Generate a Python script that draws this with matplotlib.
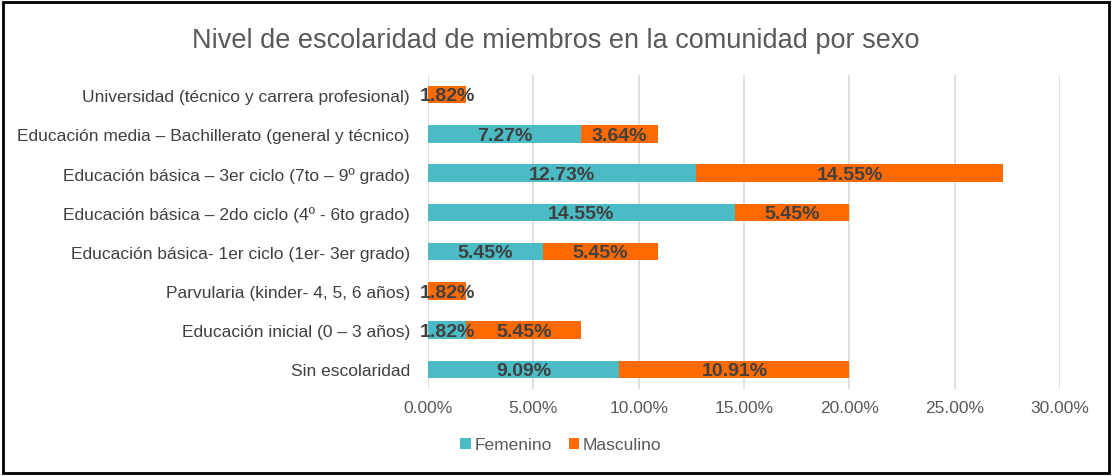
import matplotlib.pyplot as plt
from matplotlib.patches import Rectangle
import numpy as np

plt.rcParams['font.family'] = ['Liberation Sans', 'DejaVu Sans']

categorias = [
    "Sin escolaridad",
    "Educación inicial (0 – 3 años)",
    "Parvularia (kinder- 4, 5, 6 años)",
    "Educación básica- 1er ciclo (1er- 3er grado)",
    "Educación básica – 2do ciclo (4º - 6to grado)",
    "Educación básica – 3er ciclo (7to – 9º grado)",
    "Educación media – Bachillerato (general y técnico)",
    "Universidad (técnico y carrera profesional)",
]
femenino = [9.09, 1.82, 0.0, 5.45, 14.55, 12.73, 7.27, 0.0]
masculino = [10.91, 5.45, 1.82, 5.45, 5.45, 14.55, 3.64, 1.82]
ticks = [0, 5, 10, 15, 20, 25, 30]

c_fem = '#4BBBC6'
c_mas = '#FF6A00'

fig = plt.figure(figsize=(11.12, 4.77), dpi=100)
ax = fig.add_axes([428 / 1112, 1 - 390 / 477, (1060 - 428) / 1112, (390 - 76) / 477])

y = np.arange(len(categorias))
h = 0.44
ax.barh(y, femenino, height=h, color=c_fem, label='Femenino')
ax.barh(y, masculino, left=femenino, height=h, color=c_mas, label='Masculino')

for i in range(len(categorias)):
    if femenino[i] > 0:
        ax.text(femenino[i] / 2, y[i] - 0.03, f"{femenino[i]:.2f}%", ha='center', va='center',
                fontsize=14, fontweight='bold', color='#404040')
    if masculino[i] > 0:
        ax.text(femenino[i] + masculino[i] / 2, y[i] - 0.03, f"{masculino[i]:.2f}%", ha='center',
                va='center', fontsize=14, fontweight='bold', color='#404040')

ax.set_xlim(0, 30)
ax.set_ylim(-0.5, len(categorias) - 0.5)
ax.set_xticks(ticks)
ax.set_xticklabels([f"{t:.2f}%" for t in ticks], fontsize=12.5, color='#595959')
ax.set_yticks(y)
ax.set_yticklabels(categorias, fontsize=12.5, color='#404040')
ax.tick_params(length=0, pad=8)
ax.tick_params(axis='y', pad=13)
ax.grid(axis='x', color='#D9D9D9', linewidth=1.2)
ax.set_axisbelow(True)
for s in ax.spines.values():
    s.set_visible(False)

fig.text(0.5, 1 - 41 / 477, "Nivel de escolaridad de miembros en la comunidad por sexo",
         ha='center', va='center', fontsize=19.5, color='#595959')

leg = fig.legend(loc='center', bbox_to_anchor=(561 / 1112, 1 - 446 / 477), ncol=2,
                 frameon=False, fontsize=12.5, handlelength=0.6, handleheight=0.6,
                 handletextpad=0.2, columnspacing=1.0)
for t in leg.get_texts():
    t.set_color('#595959')

fig.patches.append(Rectangle((0.003, 0.006), 0.994, 0.988, transform=fig.transFigure,
                             fill=False, edgecolor='black', linewidth=2))

fig.savefig('out.png', dpi=100)
